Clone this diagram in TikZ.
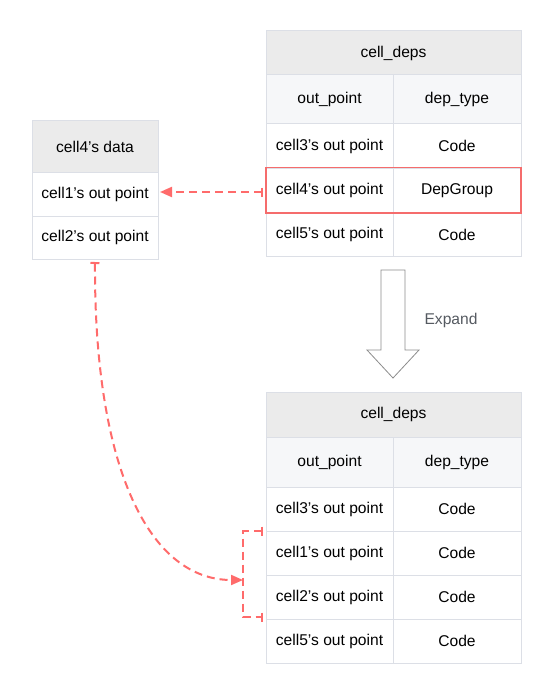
\documentclass[tikz,border=0pt]{standalone}
\usepackage{fontspec}
\setmainfont{Liberation Sans}
\usetikzlibrary{arrows.meta}
\definecolor{hdr}{HTML}{EBEBEB}
\definecolor{sub}{HTML}{F6F7F9}
\definecolor{bord}{HTML}{DCDFE6}
\definecolor{link}{HTML}{FF6B6B}
\definecolor{hilite}{HTML}{F56C6C}
\definecolor{exp}{HTML}{555A61}
\tikzset{
  cell/.style={draw=bord, line width=1pt, rectangle, inner sep=0pt, outer sep=0pt,
    font=\fontsize{15.6}{18}\selectfont, text=black},
  conn/.style={draw=link, line width=2pt, dash pattern=on 8pt off 5pt},
}
\begin{document}
\begin{tikzpicture}[x=1pt,y=-1pt]
\useasboundingbox[fill=white] (0,0) rectangle (552,695);
% left table
\node[cell, fill=hdr, minimum width=126pt, minimum height=51pt] (dh) at (95,146.5) {cell4’s data};
\node[cell, fill=white, minimum width=126pt, minimum height=44pt] (d1) at (95,194) {cell1’s out point};
\node[cell, fill=white, minimum width=126pt, minimum height=43pt] (d2) at (95,237.5) {cell2’s out point};
% top table
\node[cell, fill=hdr, minimum width=255pt, minimum height=44pt] (th) at (393.5,53) {cell\_deps};
\node[cell, fill=sub, minimum width=127pt, minimum height=49pt] (tc1) at (329.5,99.5) {out\_point};
\node[cell, fill=sub, minimum width=128pt, minimum height=49pt] (tc2) at (457,99.5) {dep\_type};
\node[cell, minimum width=127pt, minimum height=44pt] (t3a) at (329.5,146) {cell3’s out point};
\node[cell, minimum width=128pt, minimum height=44pt] (t3b) at (457,146) {Code};
\node[cell, minimum width=127pt, minimum height=45pt] (t4a) at (329.5,190.5) {cell4’s out point};
\node[cell, minimum width=128pt, minimum height=45pt] (t4b) at (457,190.5) {DepGroup};
\node[cell, minimum width=127pt, minimum height=43pt] (t5a) at (329.5,234.5) {cell5’s out point};
\node[cell, minimum width=128pt, minimum height=43pt] (t5b) at (457,234.5) {Code};
\draw[hilite, line width=1.5pt] ([yshift=0.5pt]t4a.north west) rectangle (t4b.south east);
% expand arrow
\draw[draw=gray!90, line width=0.8pt, fill=white] (381,270) -- (405,270) -- (405,350) -- (419,350) -- (393,378) -- (367,350) -- (381,350) -- cycle;
\node[font=\fontsize{15.6}{18}\selectfont, text=exp, inner sep=0pt] (expand) at (451,320) {Expand};
% bottom table
\node[cell, fill=hdr, minimum width=255pt, minimum height=45pt] (bh) at (393.5,414.5) {cell\_deps};
\node[cell, fill=sub, minimum width=127pt, minimum height=50pt] (bc1) at (329.5,462) {out\_point};
\node[cell, fill=sub, minimum width=128pt, minimum height=50pt] (bc2) at (457,462) {dep\_type};
\node[cell, minimum width=127pt, minimum height=44pt] (b3a) at (329.5,509) {cell3’s out point};
\node[cell, minimum width=128pt, minimum height=44pt] (b3b) at (457,509) {Code};
\node[cell, minimum width=127pt, minimum height=44pt] (b1a) at (329.5,553) {cell1’s out point};
\node[cell, minimum width=128pt, minimum height=44pt] (b1b) at (457,553) {Code};
\node[cell, minimum width=127pt, minimum height=44pt] (b2a) at (329.5,597) {cell2’s out point};
\node[cell, minimum width=128pt, minimum height=44pt] (b2b) at (457,597) {Code};
\node[cell, minimum width=127pt, minimum height=44pt] (b5a) at (329.5,641) {cell5’s out point};
\node[cell, minimum width=128pt, minimum height=44pt] (b5b) at (457,641) {Code};
% connectors
\draw[conn, {Bar[width=9pt,length=2pt]}-{Triangle[length=12pt,width=10pt]}] ([xshift=-3pt,yshift=-1.5pt]t4a.west) -- ([xshift=2pt,yshift=2pt]d1.east);
\coordinate (brk) at (243,580);
\draw[conn, {Bar[width=9pt,length=2pt]}-{Triangle[length=12pt,width=10pt]}] ([yshift=-3pt]d2.south) .. controls (94,470) and (150,580) .. (brk);
\draw[conn, {Bar[width=9pt,length=2pt]}-{Bar[width=9pt,length=2pt]}] ([xshift=-3pt]b1a.north west) -- (243,531) -- (243,617) -- ([xshift=-3pt,yshift=2pt]b2a.south west);
\end{tikzpicture}
\end{document}
